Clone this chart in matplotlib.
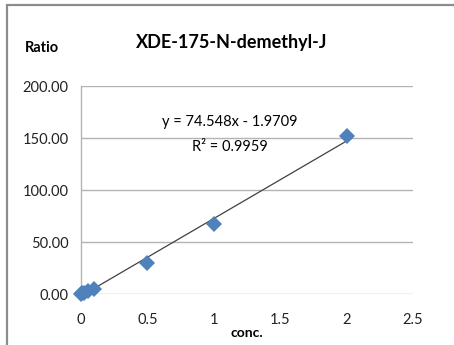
import matplotlib.pyplot as plt
from matplotlib.patches import Rectangle
import numpy as np

plt.rcParams["font.family"] = ["Lato", "DejaVu Sans"]

conc = [0.0, 0.01, 0.02, 0.05, 0.1, 0.5, 1.0, 2.0]
ratio = [0.1, 0.6, 1.2, 2.6, 4.8, 30.0, 67.5, 151.5]
slope = 74.548
intercept = -1.9709
r_squared = 0.9959
x_ticks = [0, 0.5, 1, 1.5, 2, 2.5]
x_tick_labels = ["0", "0.5", "1", "1.5", "2", "2.5"]
y_ticks = [0, 50, 100, 150, 200]

fig = plt.figure(figsize=(4.54, 3.45), dpi=100)
ax = fig.add_axes([0.1784, 0.1478, 0.7313, 0.6029])

# chart frame (top and left edges only show)
fig.patches.append(Rectangle((0.0145, -0.01), 1.0, 0.9945, transform=fig.transFigure,
                             fill=False, edgecolor="#8c8c8c", linewidth=1.6))

for y in y_ticks:
    ax.axhline(y, color="#b3b3b3", linewidth=1.0, zorder=1)

fit_x = np.array([0.03, max(conc)])
ax.plot(fit_x, slope * fit_x + intercept, color="#404040", linewidth=0.9, zorder=2)
ax.plot(conc, ratio, linestyle="none", marker="D", markersize=8.5,
        color="#4f81bd", markeredgewidth=0, zorder=3, clip_on=False)

ax.set_xlim(0, 2.5)
ax.set_ylim(0, 200)
ax.set_xticks(x_ticks)
ax.set_xticklabels(x_tick_labels)
ax.set_yticks(y_ticks)
ax.set_yticklabels([f"{v:.2f}" for v in y_ticks])
ax.tick_params(length=0, labelsize=10.5, colors="#222222")
ax.tick_params(axis="x", pad=14)
ax.tick_params(axis="y", pad=9)

for side in ["top", "right", "bottom"]:
    ax.spines[side].set_visible(False)
ax.spines["left"].set_color("#b3b3b3")
ax.spines["left"].set_linewidth(1.0)
ax.patch.set_visible(False)

fig.text(0.511, 0.878, "XDE-175-N-demethyl-J", ha="center", va="center",
         fontsize=13, fontweight="bold")
fig.text(0.093, 0.86, "Ratio", ha="center", va="center", fontsize=10.5, fontweight="bold")
fig.text(0.544, 0.035, "conc.", ha="center", va="center", fontsize=10, fontweight="bold")

ax.text(1.12, 165, f"y = {slope}x - {abs(intercept)}", ha="center", va="center", fontsize=10.5)
ax.text(1.12, 141, f"R² = {r_squared}", ha="center", va="center", fontsize=10.5)

fig.savefig("out.png", dpi=100)
